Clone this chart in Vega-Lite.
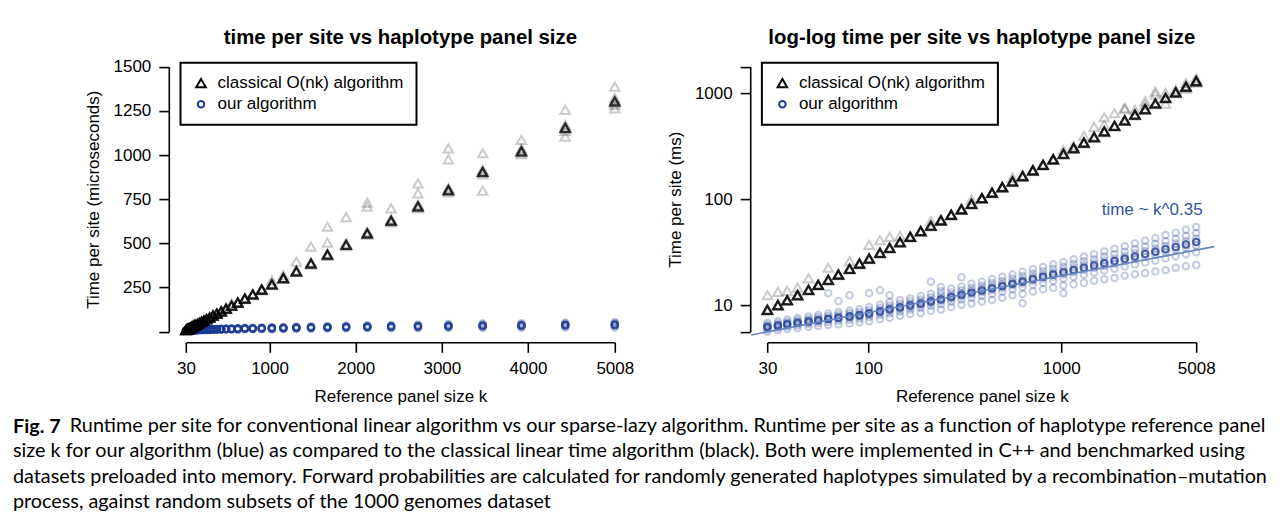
{
  "$schema": "https://vega.github.io/schema/vega-lite/v6.json",
  "autosize": {"type": "none"},
  "padding": {"left": 168.8, "top": 56.1, "right": 1113.2, "bottom": 472.9},
  "background": "white",
  "title": {
    "text": "Fig. 7",
    "subtitle": [
      "\u200b\u2003\u2003\u2002\u2002\u2009\u2009\u2009Runtime per site for conventional linear algorithm vs our sparse-lazy algorithm. Runtime per site as a function of haplotype reference panel",
      "size k for our algorithm (blue) as compared to the classical linear time algorithm (black). Both were implemented in C++ and benchmarked using",
      "datasets preloaded into memory. Forward probabilities are calculated for randomly generated haplotypes simulated by a recombination\u2013mutation",
      "process, against random subsets of the 1000 genomes dataset"
    ],
    "orient": "bottom",
    "anchor": "start",
    "frame": "bounds",
    "font": "Lato",
    "fontSize": 19.8,
    "fontWeight": "bold",
    "color": "black",
    "subtitleFont": "Lato",
    "subtitleFontSize": 19.8,
    "subtitleColor": "black",
    "subtitleLineHeight": 25.3,
    "subtitlePadding": -21,
    "dx": -72,
    "offset": 13
  },
  "datasets": {
    "pts": [
      {"k":30,"alg":"our algorithm","t":[5.59,5.9,6.09,6.2,6.2,6.2,6.2,6.2,6.33,6.53,6.81]},
      {"k":34,"alg":"our algorithm","t":[5.77,6.09,6.29,6.4,6.4,6.4,6.4,6.4,6.53,6.74,7.03]},
      {"k":38,"alg":"our algorithm","t":[5.91,6.25,6.47,6.6,6.6,6.6,6.6,6.6,6.75,6.97,7.29]},
      {"k":43,"alg":"our algorithm","t":[6.04,6.42,6.66,6.8,6.8,6.8,6.8,6.8,6.96,7.21,7.56]},
      {"k":49,"alg":"our algorithm","t":[6.22,6.61,6.86,7.0,7.0,7.0,7.0,7.0,7.17,7.42,7.78]},
      {"k":55,"alg":"our algorithm","t":[6.34,6.77,7.05,7.2,7.2,7.2,7.2,7.2,7.38,7.66,8.06]},
      {"k":62,"alg":"our algorithm","t":[6.47,6.93,7.23,7.4,7.4,7.4,7.4,7.4,7.6,7.9,8.33,12.9]},
      {"k":70,"alg":"our algorithm","t":[6.59,7.09,7.42,7.6,7.6,7.6,7.6,7.6,7.82,8.14,8.61,10.9]},
      {"k":80,"alg":"our algorithm","t":[6.71,7.25,7.61,7.8,7.8,7.8,7.8,7.8,8.03,8.39,8.89,12.4]},
      {"k":90,"alg":"our algorithm","t":[6.88,7.44,7.8,8.0,8.0,8.0,8.0,8.0,8.24,8.6,9.12]},
      {"k":101,"alg":"our algorithm","t":[7.02,7.66,8.07,8.3,8.3,8.3,8.3,8.3,8.57,8.98,9.58,12.9]},
      {"k":115,"alg":"our algorithm","t":[7.36,8.03,8.46,8.7,8.7,8.7,8.7,8.7,8.99,9.42,10.04,13.8]},
      {"k":129,"alg":"our algorithm","t":[7.57,8.34,8.83,9.1,9.1,9.1,9.1,9.1,9.43,9.92,10.63,12.4]},
      {"k":146,"alg":"our algorithm","t":[7.9,8.7,9.22,9.5,9.5,9.5,9.5,9.5,9.84,10.36,11.1]},
      {"k":165,"alg":"our algorithm","t":[8.24,9.07,9.6,9.9,9.9,9.9,9.9,9.9,10.26,10.79,11.56]},
      {"k":187,"alg":"our algorithm","t":[8.43,9.36,9.97,10.3,10.3,10.3,10.3,10.3,10.7,11.3,12.17]},
      {"k":211,"alg":"our algorithm","t":[8.83,9.82,10.45,10.8,10.8,10.8,10.8,10.8,11.22,11.85,12.77,16.6]},
      {"k":238,"alg":"our algorithm","t":[9.09,10.19,10.9,11.3,11.3,11.3,11.3,11.3,11.77,12.49,13.51,14.8]},
      {"k":269,"alg":"our algorithm","t":[9.57,10.73,11.48,11.9,11.9,11.9,11.9,11.9,12.4,13.15,14.23]},
      {"k":304,"alg":"our algorithm","t":[10.05,11.28,12.06,12.5,12.5,12.5,12.5,12.5,13.03,13.81,14.95,18.3]},
      {"k":343,"alg":"our algorithm","t":[10.35,11.72,12.61,13.1,13.1,13.1,13.1,13.1,13.69,14.57,15.85]},
      {"k":388,"alg":"our algorithm","t":[10.82,12.26,13.19,13.7,13.7,13.7,13.7,13.7,14.32,15.24,16.58]},
      {"k":438,"alg":"our algorithm","t":[11.17,12.79,13.82,14.4,14.4,14.4,14.4,14.4,15.09,16.13,17.63]},
      {"k":495,"alg":"our algorithm","t":[11.72,13.41,14.5,15.1,15.1,15.1,15.1,15.1,15.82,16.91,18.48]},
      {"k":559,"alg":"our algorithm","t":[12.34,14.12,15.26,15.9,15.9,15.9,15.9,15.9,16.66,17.81,19.46]},
      {"k":631,"alg":"our algorithm","t":[12.73,14.71,15.99,16.7,16.7,16.7,16.7,16.7,17.55,18.83,20.67,10.4]},
      {"k":713,"alg":"our algorithm","t":[13.41,15.51,16.85,17.6,17.6,17.6,17.6,17.6,18.5,19.84,21.79]},
      {"k":805,"alg":"our algorithm","t":[14.1,16.3,17.71,18.5,18.5,18.5,18.5,18.5,19.44,20.86,22.9]},
      {"k":909,"alg":"our algorithm","t":[14.51,16.96,18.53,19.4,19.4,19.4,19.4,19.4,20.45,22.02,24.29]},
      {"k":1027,"alg":"our algorithm","t":[15.26,17.83,19.48,20.4,20.4,20.4,20.4,20.4,21.5,23.15,25.54,12.9]},
      {"k":1160,"alg":"our algorithm","t":[15.71,18.55,20.38,21.4,21.4,21.4,21.4,21.4,22.62,24.45,27.09]},
      {"k":1311,"alg":"our algorithm","t":[16.2,19.35,21.38,22.5,22.5,22.5,22.5,22.5,23.85,25.88,28.8]},
      {"k":1481,"alg":"our algorithm","t":[16.99,20.3,22.42,23.6,23.6,23.6,23.6,23.6,25.02,27.14,30.21]},
      {"k":1672,"alg":"our algorithm","t":[17.51,21.15,23.5,24.8,24.8,24.8,24.8,24.8,26.36,28.71,32.09]},
      {"k":1889,"alg":"our algorithm","t":[17.99,22.0,24.57,26.0,26.0,26.0,26.0,26.0,27.72,30.29,34.01]},
      {"k":2134,"alg":"our algorithm","t":[18.96,23.18,25.89,27.4,27.4,27.4,27.4,27.4,29.21,31.92,35.84]},
      {"k":2411,"alg":"our algorithm","t":[19.53,24.16,27.14,28.8,28.8,28.8,28.8,28.8,30.79,33.77,38.07]},
      {"k":2723,"alg":"our algorithm","t":[20.12,25.21,28.48,30.3,30.3,30.3,30.3,30.3,32.48,35.75,40.48]},
      {"k":3076,"alg":"our algorithm","t":[20.74,26.32,29.91,31.9,31.9,31.9,31.9,31.9,34.29,37.88,43.07]},
      {"k":3474,"alg":"our algorithm","t":[21.37,27.48,31.42,33.6,33.6,33.6,33.6,33.6,36.22,40.15,45.83]},
      {"k":3924,"alg":"our algorithm","t":[22.51,28.96,33.1,35.4,35.4,35.4,35.4,35.4,38.16,42.3,48.29]},
      {"k":4433,"alg":"our algorithm","t":[23.2,30.25,34.78,37.3,37.3,37.3,37.3,37.3,40.32,44.85,51.4]},
      {"k":5008,"alg":"our algorithm","t":[23.89,31.6,36.55,39.3,39.3,39.3,39.3,39.3,42.6,47.55,54.71]},
      {"k":30,"alg":"classical O(nk) algorithm","t":[8.87,8.96,9.0,9.0,9.0,9.0,9.0,9.0,9.05,9.14,12.4]},
      {"k":34,"alg":"classical O(nk) algorithm","t":[9.85,9.95,10,10,10,10,10,10,10.05,10.15,13.3]},
      {"k":38,"alg":"classical O(nk) algorithm","t":[10.93,11.04,11.1,11.1,11.1,11.1,11.1,11.1,11.16,11.27,13.6]},
      {"k":43,"alg":"classical O(nk) algorithm","t":[12.21,12.34,12.4,12.4,12.4,12.4,12.4,12.4,12.46,12.59,14.6]},
      {"k":49,"alg":"classical O(nk) algorithm","t":[13.69,13.83,13.9,13.9,13.9,13.9,13.9,13.9,13.97,14.11,17.9]},
      {"k":55,"alg":"classical O(nk) algorithm","t":[15.27,15.42,15.5,15.5,15.5,15.5,15.5,15.5,15.58,15.73,15.62]},
      {"k":62,"alg":"classical O(nk) algorithm","t":[17.04,17.21,17.3,17.3,17.3,17.3,17.3,17.3,17.39,17.56,22.5]},
      {"k":70,"alg":"classical O(nk) algorithm","t":[19.11,19.3,19.4,19.4,19.4,19.4,19.4,19.4,19.5,19.69,19.55]},
      {"k":80,"alg":"classical O(nk) algorithm","t":[21.67,21.89,22,22,22,22,22,22,22.11,22.33,26.0]},
      {"k":90,"alg":"classical O(nk) algorithm","t":[24.23,24.48,24.6,24.6,24.6,24.6,24.6,24.6,24.72,24.97,24.8]},
      {"k":101,"alg":"classical O(nk) algorithm","t":[27.09,27.36,27.5,27.5,27.5,27.5,27.5,27.5,27.64,27.91,37.0]},
      {"k":115,"alg":"classical O(nk) algorithm","t":[30.63,30.94,31.1,31.1,31.1,31.1,31.1,31.1,31.26,31.57,41.0]},
      {"k":129,"alg":"classical O(nk) algorithm","t":[34.18,34.53,34.7,34.7,34.7,34.7,34.7,34.7,34.87,35.22,44.0]},
      {"k":146,"alg":"classical O(nk) algorithm","t":[38.61,39.0,39.2,39.2,39.2,39.2,39.2,39.2,39.4,39.79,45.0]},
      {"k":165,"alg":"classical O(nk) algorithm","t":[43.44,43.88,44.1,44.1,44.1,44.1,44.1,44.1,44.32,44.76,44.5]},
      {"k":187,"alg":"classical O(nk) algorithm","t":[49.05,49.55,49.8,49.8,49.8,49.8,49.8,49.8,50.05,50.55,50.2]},
      {"k":211,"alg":"classical O(nk) algorithm","t":[55.26,55.82,56.1,56.1,56.1,56.1,56.1,56.1,56.38,56.94,62.0]},
      {"k":238,"alg":"classical O(nk) algorithm","t":[62.15,62.78,63.1,63.1,63.1,63.1,63.1,63.1,63.42,64.05,63.6]},
      {"k":269,"alg":"classical O(nk) algorithm","t":[70.03,70.74,71.1,71.1,71.1,71.1,71.1,71.1,71.46,72.17,71.7]},
      {"k":304,"alg":"classical O(nk) algorithm","t":[79.0,79.8,80.2,80.2,80.2,80.2,80.2,80.2,80.6,81.4,80.8]},
      {"k":343,"alg":"classical O(nk) algorithm","t":[89.0,89.9,90.4,90.4,90.4,90.4,90.4,90.4,90.9,91.8,99.0]},
      {"k":388,"alg":"classical O(nk) algorithm","t":[100.5,101.5,102,102,102,102,102,102,102.5,103.5,102.8]},
      {"k":438,"alg":"classical O(nk) algorithm","t":[113.3,114.4,115,115,115,115,115,115,115.6,116.7,115.9]},
      {"k":495,"alg":"classical O(nk) algorithm","t":[128,129.4,130,130,130,130,130,130,130.7,132,131]},
      {"k":559,"alg":"classical O(nk) algorithm","t":[144.8,146.3,147,147,147,147,147,147,147.7,149.2,160]},
      {"k":631,"alg":"classical O(nk) algorithm","t":[162.5,164.2,165,165,165,165,165,165,165.8,167.5,166.3]},
      {"k":713,"alg":"classical O(nk) algorithm","t":[184.2,186.1,187,187,187,187,187,187,187.9,189.8,188.5]},
      {"k":805,"alg":"classical O(nk) algorithm","t":[207.3,209.4,210.5,210.5,210.5,210.5,210.5,210.5,211.6,213.7,212.2]},
      {"k":909,"alg":"classical O(nk) algorithm","t":[234.4,236.8,238,238,238,238,238,238,239.2,241.6,239.9]},
      {"k":1027,"alg":"classical O(nk) algorithm","t":[264,266.7,268,268,268,268,268,268,269.3,272,290]},
      {"k":1160,"alg":"classical O(nk) algorithm","t":[298.5,301.5,303,303,303,303,303,303,304.5,307.5,320]},
      {"k":1311,"alg":"classical O(nk) algorithm","t":[336.9,340.3,342,342,342,342,342,342,343.7,347.1,396]},
      {"k":1481,"alg":"classical O(nk) algorithm","t":[380.2,384.1,386,386,386,386,386,386,387.9,391.8,481]},
      {"k":1672,"alg":"classical O(nk) algorithm","t":[429.5,433.8,436,436,436,436,436,436,438.2,442.5,594,504]},
      {"k":1889,"alg":"classical O(nk) algorithm","t":[484.6,489.5,492,492,492,492,492,492,494.5,499.4,648]},
      {"k":2134,"alg":"classical O(nk) algorithm","t":[547.7,553.2,556,556,556,556,556,556,558.8,564.3,730,708]},
      {"k":2411,"alg":"classical O(nk) algorithm","t":[618.6,624.9,628,628,628,628,628,628,631.1,637.4,698]},
      {"k":2723,"alg":"classical O(nk) algorithm","t":[698.4,705.5,709,709,709,709,709,709,712.5,719.6,840,783]},
      {"k":3076,"alg":"classical O(nk) algorithm","t":[789,797,801,801,801,801,801,801,805,813,1038,976]},
      {"k":3474,"alg":"classical O(nk) algorithm","t":[890.4,899.5,904,904,904,904,904,904,908.5,917.6,1010,798]},
      {"k":3924,"alg":"classical O(nk) algorithm","t":[1005.7,1015.9,1021,1021,1021,1021,1021,1021,1026.1,1036.3,1085]},
      {"k":4433,"alg":"classical O(nk) algorithm","t":[1136.7,1148.2,1154,1154,1154,1154,1154,1154,1159.8,1171.3,1255,1104]},
      {"k":5008,"alg":"classical O(nk) algorithm","t":[1283.5,1296.5,1303,1303,1303,1303,1303,1303,1309.5,1322.5,1387,1264]}
    ],
    "fit": [
      {"k": 24.7, "t": 5.22},
      {"k": 6206, "t": 35.6}
    ],
    "note": [
      {"k": 2961, "t": 79.1, "label": "time ~ k^0.35"}
    ]
  },
  "hconcat": [
    {
      "width": 463.2,
      "height": 286.2,
      "title": {"text": "time per site vs haplotype panel size", "anchor": "middle", "baseline": "alphabetic", "offset": -8, "fontSize": 20.4, "fontWeight": "bold", "font": "Liberation Sans", "color": "black"},
      "data": {"name": "pts"},
      "transform": [{"flatten": ["t"]}],
      "encoding": {
        "x": {"field": "k", "type": "quantitative",
              "scale": {"domain": [30, 5008], "range": [17.2, 446], "zero": false, "nice": false},
              "axis": {"values": [30, 1000, 2000, 3000, 4000, 5008], "format": "d", "title": "Reference panel size k"}},
        "y": {"field": "t", "type": "quantitative",
              "scale": {"domain": [0, 1500], "range": [275.6, 10.6], "zero": false, "nice": false},
              "axis": {"values": [0, 250, 500, 750, 1000, 1250, 1500], "format": "d", "labelExpr": "datum.value == 0 ? '' : datum.label", "title": "Time per site (microseconds)"}},
        "color": {"field": "alg", "type": "nominal",
                  "scale": {"domain": ["classical O(nk) algorithm", "our algorithm"], "range": ["#000000", "#1c3c94"]},
                  "legend": {"title": null, "orient": "none", "legendX": 11.7, "legendY": 6.6}},
        "shape": {"field": "alg", "type": "nominal",
                  "scale": {"domain": ["classical O(nk) algorithm", "our algorithm"], "range": ["triangle-up", "circle"]},
                  "legend": {"title": null, "orient": "none", "legendX": 11.7, "legendY": 6.6}},
        "size": {"field": "alg", "type": "nominal",
                 "scale": {"domain": ["classical O(nk) algorithm", "our algorithm"], "range": [90, 42]},
                 "legend": {"title": null, "orient": "none", "legendX": 11.7, "legendY": 6.6}}
      },
      "layer": [
        {
          "transform": [{"filter": "datum.alg == 'our algorithm'"}],
          "mark": {"type": "point", "filled": false, "strokeWidth": 2, "opacity": 0.3}
        },
        {
          "transform": [{"filter": "datum.alg != 'our algorithm'"}],
          "mark": {"type": "point", "filled": false, "strokeWidth": 2, "opacity": 0.2}
        }
      ]
    },
    {
      "width": 463.2,
      "height": 286.2,
      "title": {"text": "log-log time per site vs haplotype panel size", "anchor": "middle", "baseline": "alphabetic", "offset": -8, "fontSize": 20.4, "fontWeight": "bold", "font": "Liberation Sans", "color": "black"},
      "layer": [
        {
          "data": {"name": "pts"},
          "transform": [{"flatten": ["t"]}],
          "encoding": {
            "x": {"field": "k", "type": "quantitative",
                  "scale": {"type": "log", "domain": [30, 5008], "range": [17.2, 446], "nice": false},
                  "axis": {"values": [30, 100, 1000, 5008], "format": "d", "title": "Reference panel size k"}},
            "y": {"field": "t", "type": "quantitative",
                  "scale": {"type": "log", "domain": [5.6, 1784], "range": [275.6, 10.6], "nice": false},
                  "axis": {"values": [5.6, 10, 100, 1000, 1784], "labelExpr": "datum.value == 10 ? '10' : datum.value == 100 ? '100' : datum.value == 1000 ? '1000' : ''", "title": "Time per site (ms)"}},
            "color": {"field": "alg", "type": "nominal",
                      "scale": {"domain": ["classical O(nk) algorithm", "our algorithm"], "range": ["#000000", "#1c3c94"]},
                      "legend": {"title": null, "orient": "none", "legendX": 11.7, "legendY": 6.6}},
            "shape": {"field": "alg", "type": "nominal",
                      "scale": {"domain": ["classical O(nk) algorithm", "our algorithm"], "range": ["triangle-up", "circle"]},
                      "legend": {"title": null, "orient": "none", "legendX": 11.7, "legendY": 6.6}},
            "size": {"field": "alg", "type": "nominal",
                     "scale": {"domain": ["classical O(nk) algorithm", "our algorithm"], "range": [90, 42]},
                     "legend": {"title": null, "orient": "none", "legendX": 11.7, "legendY": 6.6}}
          },
          "layer": [
            {
              "transform": [{"filter": "datum.alg == 'our algorithm'"}],
              "mark": {"type": "point", "filled": false, "strokeWidth": 2, "opacity": 0.26}
            },
            {
              "transform": [{"filter": "datum.alg != 'our algorithm'"}],
              "mark": {"type": "point", "filled": false, "strokeWidth": 2, "opacity": 0.2}
            }
          ]
        },
        {
          "data": {"name": "fit"},
          "mark": {"type": "line", "color": "#6586c4", "strokeWidth": 1.6},
          "encoding": {
            "x": {"field": "k", "type": "quantitative"},
            "y": {"field": "t", "type": "quantitative"}
          }
        },
        {
          "data": {"name": "note"},
          "mark": {"type": "text", "color": "#2f55a3", "fontSize": 17, "font": "Liberation Sans", "align": "center", "baseline": "middle"},
          "encoding": {
            "x": {"field": "k", "type": "quantitative"},
            "y": {"field": "t", "type": "quantitative"},
            "text": {"field": "label"}
          }
        }
      ]
    }
  ],
  "spacing": 117.4,
  "bounds": "flush",
  "resolve": {
    "scale": {"color": "independent", "shape": "independent", "size": "independent"},
    "legend": {"color": "independent", "shape": "independent", "size": "independent"}
  },
  "config": {
    "font": "Liberation Sans",
    "view": {"stroke": null},
    "axis": {
      "grid": false,
      "domainColor": "black",
      "domainWidth": 1.6,
      "tickColor": "black",
      "tickWidth": 1.6,
      "tickSize": 10,
      "labelFont": "Liberation Sans",
      "labelFontSize": 17,
      "labelColor": "black",
      "labelPadding": 8,
      "labelFlush": false,
      "labelOverlap": false,
      "titleFont": "Liberation Sans",
      "titleFontSize": 17,
      "titleFontWeight": "normal",
      "titleColor": "black"
    },
    "axisX": {"titlePadding": 12},
    "axisY": {"titlePadding": 10},
    "legend": {
      "strokeColor": "black",
      "strokeWidth": 2,
      "padding": 12,
      "labelFont": "Liberation Sans",
      "labelFontSize": 17,
      "labelColor": "black",
      "labelOffset": 8,
      "labelLimit": 400,
      "rowPadding": 3,
      "symbolOpacity": 1,
      "symbolStrokeWidth": 2
    }
  }
}
